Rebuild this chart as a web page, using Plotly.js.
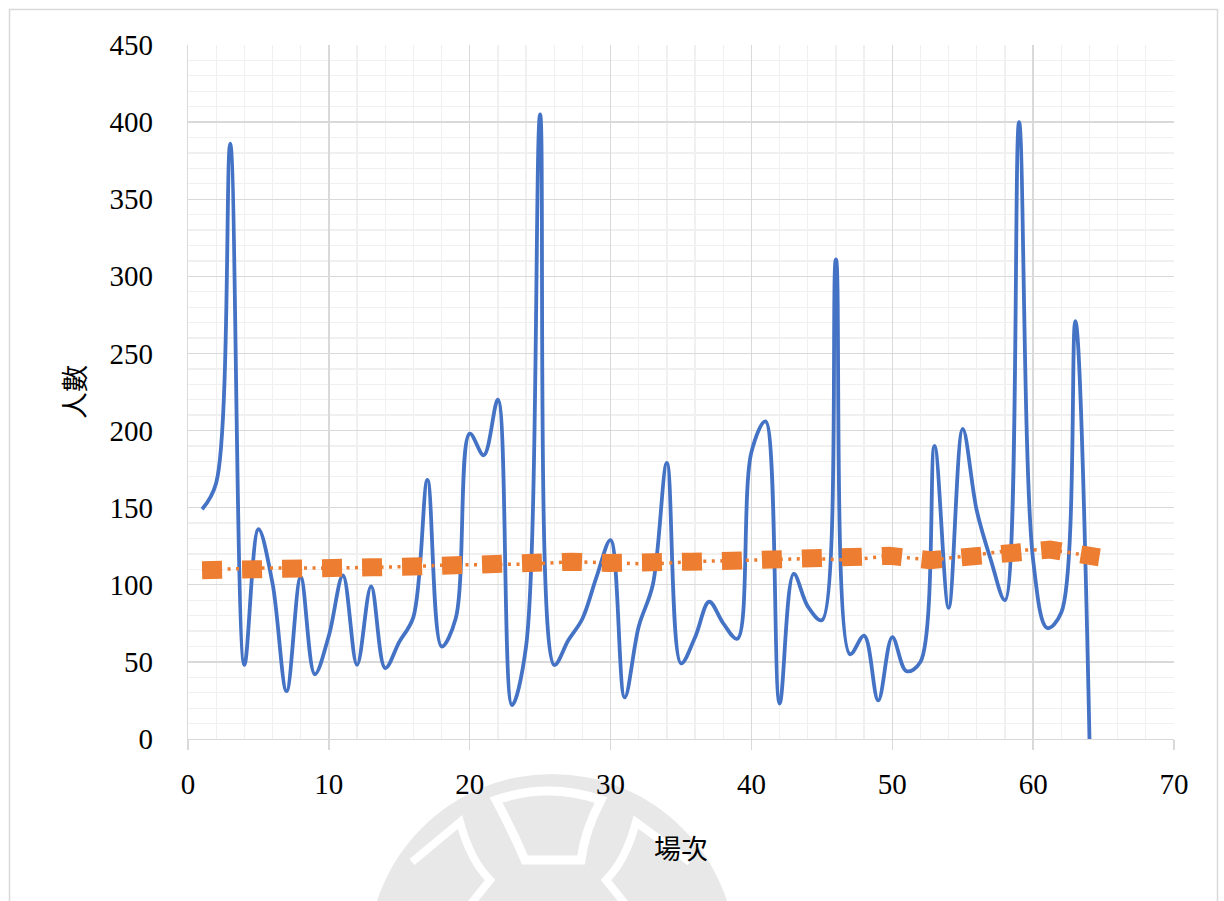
<!DOCTYPE html>
<html>
<head>
<meta charset="utf-8">
<script src="https://cdn.plot.ly/plotly-3.0.1.min.js"></script>
<style>
html,body{margin:0;padding:0;background:#fff;}
#chart{width:1224px;height:901px;}
</style>
</head>
<body>
<div id="chart"></div>
<script>
// 場次 (x) and 人數 (y)
const sessions = [1,2,3,4,5,6,7,8,9,10,11,12,13,14,15,16,17,18,19,20,21,22,23,24,25,26,27,28,29,30,31,32,
  33,34,35,36,37,38,39,40,41,42,43,44,45,46,47,48,49,50,51,52,53,54,55,56,57,58,59,60,61,62,63,64];
const attendance = [149,166,386,48,136,101,31,105,42,67,106,48,99,46,63,79,168,60,78,198,184,220,22,60,
  405,48,64,78,105,129,27,73,100,179,49,66,89,75,65,186,206,23,107,86,77,311,55,67,25,66,44,50,190,85,
  201,148,116,90,400,116,72,82,271,0];
// trend (orange dotted line)
const trendX = [1,4.55,7.38,10.2,13.0,15.9,18.7,21.5,24.4,27.2,29.9,32.9,35.7,38.6,41.4,44.3,47.0,49.8,52.7,55.5,58.3,61.2,64.7];
const trendY = [109.5,110.8,111,110.8,111.3,111.8,112.9,113.4,113.4,115,114.2,113.4,115,115.6,116.4,117,116,118.8,116,118.8,122.3,122.8,117.8];

const xTicks = [0,10,20,30,40,50,60,70];
const yTicks = [0,50,100,150,200,250,300,350,400,450];

const serif = '"Liberation Serif", "DejaVu Serif", serif';
const cjk = '"Noto Sans CJK TC", "Noto Sans CJK SC", sans-serif';

const traces = [
  {
    x: sessions, y: attendance, type: 'scatter', mode: 'lines',
    line: {color: '#4472C4', width: 3.8, shape: 'spline', smoothing: 1},
    hoverinfo: 'x+y', showlegend: false
  },
  {
    x: trendX, y: trendY, type: 'scatter', mode: 'lines',
    line: {color: '#ED7D31', width: 3.5, dash: '3px,5.5px'},
    hoverinfo: 'skip', showlegend: false
  },
  {
    x: trendX, y: trendY, type: 'scatter', mode: 'lines',
    line: {color: '#ED7D31', width: 18, dash: '20px,20px'},
    hoverinfo: 'skip', showlegend: false
  }
];

// pixel -> paper helpers for decorative shapes
const L = 188, R = 1174, T = 45, B = 739;
const px = v => (v - L) / (R - L);
const py = v => (B - v) / (B - T);

const layout = {
  width: 1224, height: 901,
  margin: {l: L, r: 1224 - R, t: T, b: 901 - B},
  paper_bgcolor: '#ffffff', plot_bgcolor: 'rgba(0,0,0,0)',
  showlegend: false,
  font: {family: serif, color: '#000000', size: 29},
  xaxis: {
    range: [0, 70], tickvals: xTicks, ticktext: xTicks.map(String),
    showgrid: true, gridcolor: '#D9D9D9', gridwidth: 1.3,
    minor: {dtick: 2, tick0: 0, showgrid: true, gridcolor: '#F0F0F0', gridwidth: 1.3},
    zeroline: false, showline: true, linecolor: '#D9D9D9', linewidth: 1.3,
    ticks: 'outside', ticklen: 10, tickcolor: '#D9D9D9', tickwidth: 1.3,
    ticklabelstandoff: 9,
    tickfont: {family: serif, size: 29, color: '#000'},
    title: {text: '場次', font: {family: cjk, size: 27, color: '#000'}, standoff: 41},
    automargin: false, fixedrange: true
  },
  yaxis: {
    range: [0, 450], tickvals: yTicks, ticktext: yTicks.map(String),
    showgrid: true, gridcolor: '#D9D9D9', gridwidth: 1.3,
    minor: {dtick: 10, tick0: 0, showgrid: true, gridcolor: '#F0F0F0', gridwidth: 1.3},
    zeroline: false, showline: true, linecolor: '#D9D9D9', linewidth: 1.3,
    ticks: '', ticklabelstandoff: 28,
    tickfont: {family: serif, size: 29, color: '#000'},
    title: {text: '人數', font: {family: cjk, size: 27, color: '#000'}, standoff: 16},
    automargin: false, fixedrange: true
  },
  shapes: [
    // chart outer border
    {type: 'rect', xref: 'paper', yref: 'paper', x0: px(9.5), x1: px(1217.5), y0: py(906), y1: py(9.5),
     line: {color: '#D9D9D9', width: 1.5}, fillcolor: 'rgba(0,0,0,0)', layer: 'below'},
    // watermark circle
    {type: 'circle', xref: 'paper', yref: 'paper', x0: px(368), x1: px(736), y0: py(1142), y1: py(774),
     line: {width: 0}, fillcolor: '#E8E8E8', layer: 'below'},
    // watermark bell outline
    {type: 'path', xref: 'paper', yref: 'paper', layer: 'below',
     path: 'M ' + px(496) + ',' + py(800) + ' Q ' + px(548) + ',' + py(782) + ' ' + px(601) + ',' + py(800) +
           ' Q ' + px(585) + ',' + py(830) + ' ' + px(581) + ',' + py(860) +
           ' L ' + px(525) + ',' + py(860) + ' Q ' + px(512) + ',' + py(830) + ' ' + px(496) + ',' + py(800) + ' Z',
     line: {color: '#FFFFFF', width: 9}, fillcolor: 'rgba(0,0,0,0)'},
    // watermark arms
    {type: 'path', xref: 'paper', yref: 'paper', layer: 'below',
     path: 'M ' + px(412) + ',' + py(862) + ' L ' + px(460) + ',' + py(822) + ' Q ' + px(470) + ',' + py(860) + ' ' + px(490) + ',' + py(880) + ' L ' + px(470) + ',' + py(905),
     line: {color: '#FFFFFF', width: 8}, fillcolor: 'rgba(0,0,0,0)'},
    {type: 'path', xref: 'paper', yref: 'paper', layer: 'below',
     path: 'M ' + px(690) + ',' + py(862) + ' L ' + px(636) + ',' + py(822) + ' Q ' + px(626) + ',' + py(860) + ' ' + px(606) + ',' + py(880) + ' L ' + px(626) + ',' + py(905),
     line: {color: '#FFFFFF', width: 8}, fillcolor: 'rgba(0,0,0,0)'}
  ]
};

Plotly.newPlot('chart', traces, layout, {staticPlot: true, displayModeBar: false});
</script>
</body>
</html>
